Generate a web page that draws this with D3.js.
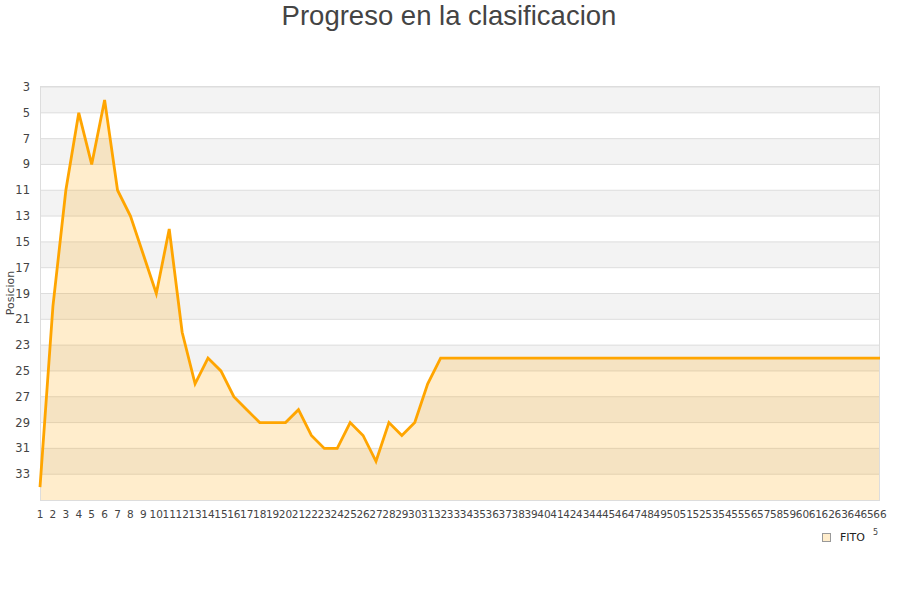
<!DOCTYPE html>
<html><head><meta charset="utf-8">
<script src="https://cdn.jsdelivr.net/npm/d3@7"></script>
<style>body{margin:0;background:#fff}svg{display:block}</style>
</head><body>
<svg id="c" width="900" height="600"></svg>
<script>
const title = "Progreso en la clasificacion";
const yLabel = "Posicion";
const seriesName = "FITO";
const jornadas = d3.range(1, 67);
const posiciones = [34,20,11,5,9,4,11,13,16,19,14,22,26,24,25,27,28,29,29,29,28,30,31,31,29,30,32,29,30,29,26,24,
  24,24,24,24,24,24,24,24,24,24,24,24,24,24,24,24,24,24,24,24,24,24,24,24,24,24,24,24,24,24,24,24,24,24];
const yTicks = d3.range(3, 34, 2);

const svg = d3.select("#c");
const L = 40, R = 880, T = 87, B = 500;
const x = d3.scaleLinear().domain([1, 66]).range([L, R]);
const y = d3.scaleLinear().domain([3, 35]).range([T, B]);

// bands
const bands = d3.range(3, 35, 2);
svg.append("g").selectAll("rect").data(bands).join("rect")
  .attr("x", L).attr("width", R - L)
  .attr("y", d => y(d)).attr("height", d => y(d + 2) - y(d))
  .attr("fill", (d, i) => i % 2 === 0 ? "#f3f3f3" : "#ffffff");
// grid
svg.append("g").selectAll("line").data(yTicks).join("line")
  .attr("x1", L).attr("x2", R).attr("y1", d => y(d)).attr("y2", d => y(d))
  .attr("stroke", "#dddddd").attr("stroke-width", 1);

const data = jornadas.map((j, i) => [j, posiciones[i]]);
svg.append("path").datum(data)
  .attr("d", d3.area().x(d => x(d[0])).y0(y(35)).y1(d => y(d[1])))
  .attr("fill", "#ffa500").attr("fill-opacity", 0.2);

// border
svg.append("rect").attr("x", L + 0.5).attr("y", T - 0.5).attr("width", R - L - 1).attr("height", B - T + 1)
  .attr("fill", "none").attr("stroke", "#dddddd");

svg.append("path").datum(data)
  .attr("d", d3.line().x(d => x(d[0])).y(d => y(d[1])))
  .attr("fill", "none").attr("stroke", "#ffa500").attr("stroke-width", 2.8).attr("stroke-linejoin", "miter");

// y axis labels
svg.append("g").selectAll("text").data(yTicks).join("text")
  .attr("x", 30).attr("y", d => y(d) + 4).attr("text-anchor", "end")
  .attr("font-family", "DejaVu Sans").attr("font-size", 11.5).attr("fill", "#444")
  .text(d => d);
// x axis labels
svg.append("g").selectAll("text").data(jornadas).join("text")
  .attr("x", d => x(d)).attr("y", 518).attr("text-anchor", "middle")
  .attr("font-family", "DejaVu Sans").attr("font-size", 10.5).attr("fill", "#444")
  .text(d => d);

svg.append("text").attr("transform", "translate(14,293) rotate(-90)")
  .attr("text-anchor", "middle").attr("font-family", "DejaVu Sans").attr("font-size", 11).attr("fill", "#444")
  .text(yLabel);

svg.append("text").attr("x", 449).attr("y", 25).attr("text-anchor", "middle")
  .attr("font-family", "Liberation Sans").attr("font-size", 27.5).attr("fill", "#444")
  .text(title);

// legend
svg.append("rect").attr("x", 822.5).attr("y", 533.5).attr("width", 8).attr("height", 8)
  .attr("fill", "#ffedcc").attr("stroke", "#999");
svg.append("text").attr("x", 840).attr("y", 541).attr("font-family", "DejaVu Sans").attr("font-size", 11).attr("fill", "#222")
  .text(seriesName);
svg.append("text").attr("x", 873).attr("y", 535).attr("font-family", "DejaVu Sans").attr("font-size", 8).attr("fill", "#444").text("5");
</script>
</body></html>
